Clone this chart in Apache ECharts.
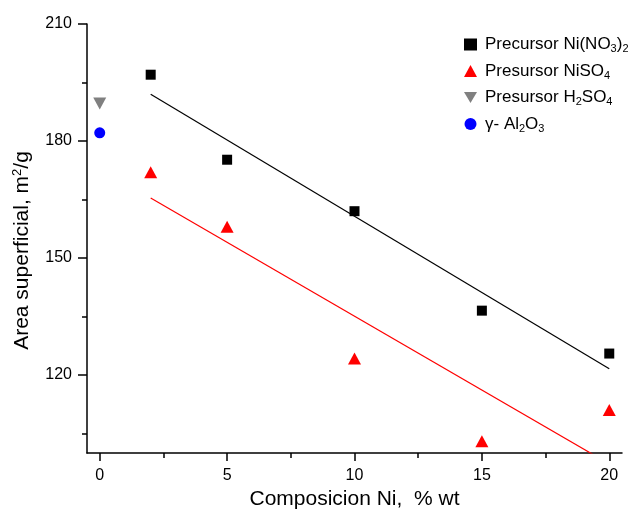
<!DOCTYPE html>
<html>
<head>
<meta charset="utf-8">
<script src="https://cdn.jsdelivr.net/npm/echarts@6/dist/echarts.min.js"></script>
<style>
  html, body { margin: 0; padding: 0; background: #fff; }
  #main { width: 628px; height: 519px; }
</style>
</head>
<body>
<div id="main"></div>
<script>
// data
var nitrato = [[2, 197], [5, 175.2], [10, 162], [15, 136.5], [20, 125.5]];
var sulfato = [[2, 172], [5, 158], [10, 124.2], [15, 103], [20, 111]];
var acido = [[0, 189.6]];
var alumina = [[0, 182.1]];
// fitted lines (end points)
var ajusteNitrato = [[2, 192], [20, 121.6]];
var ajusteSulfato = [[2, 165.4], [20, 97.2]];

var xMajor = [0, 5, 10, 15, 20];
var xMinor = [2.5, 7.5, 12.5, 17.5];
var yMajor = [120, 150, 180, 210];
var yMinor = [105, 135, 165, 195];

var nombres = {
  'Precursor Ni(NO3)2': 'Precursor Ni(NO{s|3}){s|2}',
  'Presursor NiSO4': 'Presursor NiSO{s|4}',
  'Presursor H2SO4': 'Presursor H{s|2}SO{s|4}',
  'γ- Al2O3': 'γ- Al{s|2}O{s|3}'
};

var fuente = '"Liberation Sans", Arial, sans-serif';

var myChart = echarts.init(document.getElementById('main'));

function ejeX(idx) {
  return {
    type: 'value', min: -0.5, max: 20.5, position: 'bottom',
    axisLine: { show: idx === 0, onZero: false, lineStyle: { color: '#000', width: 1.5 } },
    axisTick: { show: true, customValues: idx === 0 ? xMajor : xMinor, length: idx === 0 ? 8 : 5, lineStyle: { color: '#000', width: 1.5 } },
    axisLabel: { show: idx === 0, customValues: xMajor, margin: 15, color: '#000', fontSize: 16, fontFamily: fuente },
    splitLine: { show: false },
    name: idx === 0 ? 'Composicion Ni,  % wt' : '',
    nameLocation: 'middle', nameGap: 35,
    nameTextStyle: { color: '#000', fontSize: 21, fontFamily: fuente }
  };
}
function ejeY(idx) {
  return {
    type: 'value', min: 100, max: 210, position: 'left',
    axisLine: { show: idx === 0, onZero: false, lineStyle: { color: '#000', width: 1.5 } },
    axisTick: { show: true, customValues: idx === 0 ? yMajor : yMinor, length: idx === 0 ? 9 : 5, lineStyle: { color: '#000', width: 1.5 } },
    axisLabel: { show: idx === 0, customValues: yMajor, margin: 15, color: '#000', fontSize: 16, fontFamily: fuente },
    splitLine: { show: false },
    name: idx === 0 ? 'Area superficial, m{p|2}/g' : '',
    nameLocation: 'middle', nameGap: 53, nameRotate: 90,
    nameTextStyle: {
      color: '#000', fontSize: 21, fontFamily: fuente, padding: [0, 24, 0, 0],
      rich: { p: { fontSize: 13, fontFamily: fuente, color: '#000', padding: [0, 0, 10, 0] } }
    }
  };
}

var option = {
  animation: false,
  grid: { left: 87, right: 6, top: 24, bottom: 66 },
  xAxis: [ejeX(0), ejeX(1)],
  yAxis: [ejeY(0), ejeY(1)],
  legend: {
    orient: 'vertical', left: 459, top: 31, itemGap: 8,
    itemWidth: 13, itemHeight: 12,
    data: [
      { name: 'Precursor Ni(NO3)2', icon: 'rect', itemStyle: { color: '#000', opacity: 1 } },
      { name: 'Presursor NiSO4', icon: 'triangle', itemStyle: { opacity: 1 } },
      { name: 'Presursor H2SO4', icon: 'path://M0,0L2,0L1,1.7Z', itemStyle: { opacity: 1 } },
      { name: 'γ- Al2O3', icon: 'circle', itemStyle: { opacity: 1 } }
    ],
    formatter: function (n) { return nombres[n]; },
    textStyle: {
      color: '#000', fontSize: 17, fontFamily: fuente, padding: [0, 0, 0, 3],
      rich: { s: { fontSize: 11, fontFamily: fuente, color: '#000', padding: [9, 0, 0, 0] } }
    }
  },
  series: [
    { name: 'Precursor Ni(NO3)2', type: 'scatter', data: nitrato, symbol: 'rect', symbolSize: 10, itemStyle: { color: '#000', opacity: 1 } },
    { name: 'Presursor NiSO4', type: 'scatter', data: sulfato, symbol: 'triangle', symbolSize: [13, 12], itemStyle: { color: '#ff0000', opacity: 1 } },
    { name: 'Presursor H2SO4', type: 'scatter', data: acido, symbol: 'triangle', symbolRotate: 180, symbolSize: [13, 12], itemStyle: { color: '#808080', opacity: 1 } },
    { name: 'γ- Al2O3', type: 'scatter', data: alumina, symbol: 'circle', symbolSize: 11, itemStyle: { color: '#0000ff', opacity: 1 } },
    { name: 'ajuste1', type: 'line', data: ajusteNitrato, showSymbol: false, clip: true, lineStyle: { color: '#000', width: 1.2 } },
    { name: 'ajuste2', type: 'line', data: ajusteSulfato, showSymbol: false, clip: true, lineStyle: { color: '#ff0000', width: 1.2 } }
  ]
};
myChart.setOption(option);
</script>
</body>
</html>
